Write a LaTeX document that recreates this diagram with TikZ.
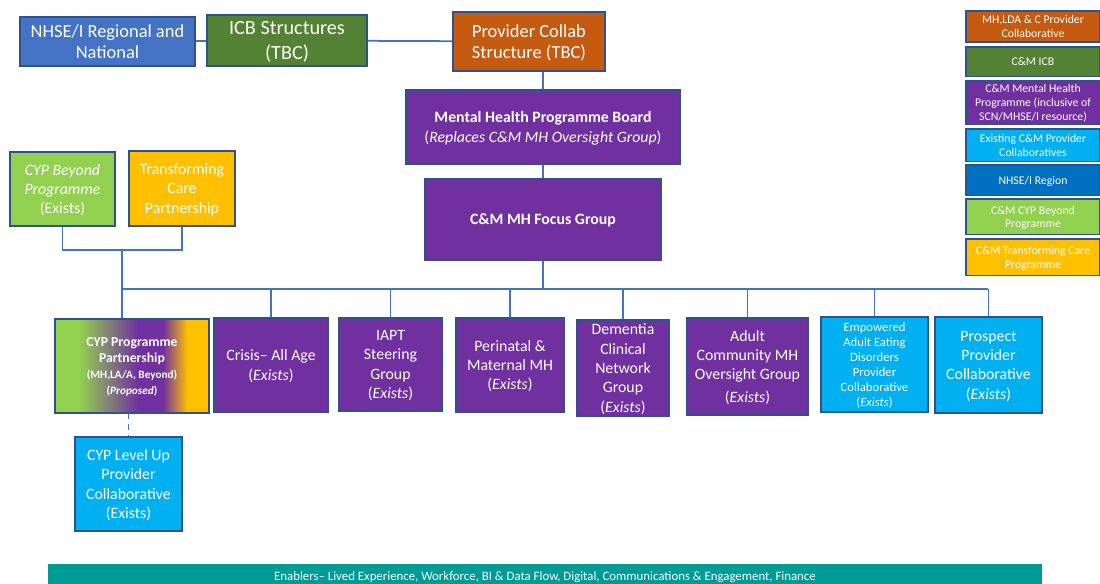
\documentclass[tikz,border=0pt]{standalone}
\usepackage{fontspec}
\setmainfont{Carlito}
\usetikzlibrary{positioning}

\definecolor{nhseblue}{HTML}{4472C4}
\definecolor{icbgreen}{HTML}{548235}
\definecolor{provorange}{HTML}{C55A11}
\definecolor{mhpurple}{HTML}{7030A0}
\definecolor{pcblue}{HTML}{00B0F0}
\definecolor{regionblue}{HTML}{0070C0}
\definecolor{beyondgreen}{HTML}{92D050}
\definecolor{tcyellow}{HTML}{FFC000}
\definecolor{enabteal}{HTML}{009B95}
\definecolor{boxline}{HTML}{2F528F}
\definecolor{linkblue}{HTML}{4472C4}

\pgfdeclarehorizontalshading{cypshade}{100bp}{color(0bp)=(beyondgreen); color(33bp)=(beyondgreen); color(52bp)=(mhpurple); color(60bp)=(mhpurple); color(68bp)=(tcyellow); color(100bp)=(tcyellow)}

\begin{document}
\begin{tikzpicture}[x=0.02cm, y=-0.02cm]
		\tikzset{
			box/.style={draw=boxline, line width=0.9pt, align=center, text=white, inner sep=1pt, text depth=-3.4pt},
			bigtext/.style={font=\fontsize{10.5}{12.2}\selectfont},
			midtext/.style={font=\fontsize{9}{11}\selectfont},
			smalltext/.style={font=\fontsize{7.2}{8.6}\selectfont},
			legendtext/.style={font=\fontsize{6.7}{7.9}\selectfont},
			legendbox/.style={box, legendtext, minimum width=2.68cm, text depth=-1.2pt},
			link/.style={draw=linkblue, line width=1pt}
		}
		\useasboundingbox (0,0) rectangle (1100,584);
		
		% Top row
		\node[box, bigtext, fill=nhseblue, minimum width=3.5cm, minimum height=0.98cm] (nhse) at (107.5,41.5) {NHSE/I Regional and\\National};
		\node[box, font=\fontsize{11.5}{14}\selectfont, fill=icbgreen, minimum width=3.2cm, minimum height=1.02cm] (icb) at (287,40.5) {ICB Structures\\(TBC)};
		\node[box, bigtext, fill=provorange, minimum width=3.04cm, minimum height=1.18cm] (provider) at (529,41.5) {Provider Collab\\Structure (TBC)};
		
		% Programme board and focus group
		\node[box, midtext, fill=mhpurple, minimum width=5.48cm, minimum height=1.48cm] (board) at (543,127) {\textbf{Mental Health Programme Board}\\(\textit{Replaces C\&M MH Oversight Group})};
		\node[box, midtext, fill=mhpurple, minimum width=4.72cm, minimum height=1.62cm] (focus) at (543,219.5) {\textbf{C\&M MH Focus Group}};
		
		% CYP partners
		\node[box, midtext, fill=beyondgreen, minimum width=2.1cm, minimum height=1.48cm] (beyond) at (62.5,189) {\textit{CYP Beyond}\\\textit{Programme}\\(Exists)};
		\node[box, midtext, fill=tcyellow, minimum width=2.12cm, minimum height=1.5cm] (tcp) at (182,188.5) {Transforming\\Care\\Partnership};
		
		% Workstreams
		\node[box, shade, shading=cypshade, font=\fontsize{7.8}{9}\selectfont\bfseries, minimum width=3.08cm, minimum height=1.88cm] (cyp) at (132,366) {CYP Programme\\Partnership\\{\fontsize{6.4}{7.6}\selectfont (MH,LA/A, Beyond)}\\{\fontsize{6.4}{7.6}\selectfont (\textit{Proposed})}};
		\node[box, midtext, fill=mhpurple, minimum width=2.28cm, minimum height=1.88cm] (crisis) at (271,365) {Crisis– All Age\\(\textit{Exists})};
		\node[box, midtext, fill=mhpurple, minimum width=2.06cm, minimum height=1.86cm] (iapt) at (390.5,364.5) {IAPT\\Steering\\Group\\(\textit{Exists})};
		\node[box, midtext, fill=mhpurple, minimum width=2.16cm, minimum height=1.88cm] (perinatal) at (510,365) {Perinatal \&\\Maternal MH\\(\textit{Exists})};
		\node[box, midtext, fill=mhpurple, minimum width=1.84cm, minimum height=1.92cm] (dementia) at (623,368) {Dementia\\Clinical\\Network\\Group\\(\textit{Exists})};
		\node[box, midtext, fill=mhpurple, minimum width=2.42cm, minimum height=1.94cm] (adult) at (747.5,366.5) {Adult\\Community MH\\Oversight Group\\[2pt](\textit{Exists})};
		\node[box, smalltext, fill=pcblue, minimum width=2.14cm, minimum height=1.9cm] (eating) at (874.5,364.5) {Empowered\\Adult Eating\\Disorders\\Provider\\Collaborative\\(\textit{Exists})};
		\node[box, midtext, fill=pcblue, minimum width=2.14cm, minimum height=1.92cm] (prospect) at (988.5,365) {Prospect\\Provider\\Collaborative\\(\textit{Exists})};
		\node[box, midtext, fill=pcblue, minimum width=2.14cm, minimum height=1.88cm] (levelup) at (128.5,484) {CYP Level Up\\Provider\\Collaborative\\(Exists)};
		
		% Legend
		\node[legendbox, fill=provorange, minimum height=0.63cm] (legprov) at (1033,26.5) {MH,LDA \& C Provider\\Collaborative};
		\node[legendbox, fill=icbgreen, minimum height=0.59cm, below=0.06cm of legprov] (legicb) {C\&M ICB};
		\node[legendbox, fill=mhpurple, minimum height=0.87cm, below=0.06cm of legicb] (legmh) {C\&M Mental Health\\Programme (inclusive of\\SCN/MHSE/I resource)};
		\node[legendbox, fill=pcblue, minimum height=0.65cm, below=0.06cm of legmh] (legpc) {Existing C\&M Provider\\Collaboratives};
		\node[legendbox, fill=regionblue, minimum height=0.61cm, below=0.04cm of legpc] (legregion) {NHSE/I Region};
		\node[legendbox, fill=beyondgreen, minimum height=0.71cm, below=0.04cm of legregion] (legbeyond) {C\&M CYP Beyond\\Programme};
		\node[legendbox, fill=tcyellow, minimum height=0.73cm, below=0.06cm of legbeyond] (legtcp) {C\&M Transforming Care\\Programme};
		
		% Enablers bar
		\node[fill=enabteal, text=white, font=\fontsize{7.3}{8.6}\selectfont, minimum width=19.88cm, minimum height=0.52cm, inner sep=0pt] (enablers) at (545,577) {Enablers– Lived Experience, Workforce, BI \& Data Flow, Digital, Communications \& Engagement, Finance};
		
		% Connectors
		\coordinate (busL) at (122,289);
		\coordinate (busR) at (988,289);
		\coordinate (join) at (122,250);
		
		\draw[link] (nhse) -- (icb);
		\draw[link] (icb) -- (provider);
		\draw[link] (provider.south -| board.north) -- (board.north);
		\draw[link] (board) -- (focus);
		\draw[link] (focus.south) -- (focus.south |- busL);
		\draw[link] (busL) -- (busR);
		
		\draw[link] (beyond.south) |- (join) -| (tcp.south);
		\draw[link] (join) -- (join |- cyp.north);
		
		\draw[link] (crisis.north) -- (crisis.north |- busL);
		\draw[link] (iapt.north) -- (iapt.north |- busL);
		\draw[link] (perinatal.north) -- (perinatal.north |- busL);
		\draw[link] (dementia.north) -- (dementia.north |- busL);
		\draw[link] (adult.north) -- (adult.north |- busL);
		\draw[link] (eating.north) -- (eating.north |- busL);
		\draw[link] (prospect.north) -- (prospect.north |- busL);
		
		\draw[link, dashed] (cyp.south -| levelup.north) -- (levelup.north);
		
	\end{tikzpicture}
\end{document}
